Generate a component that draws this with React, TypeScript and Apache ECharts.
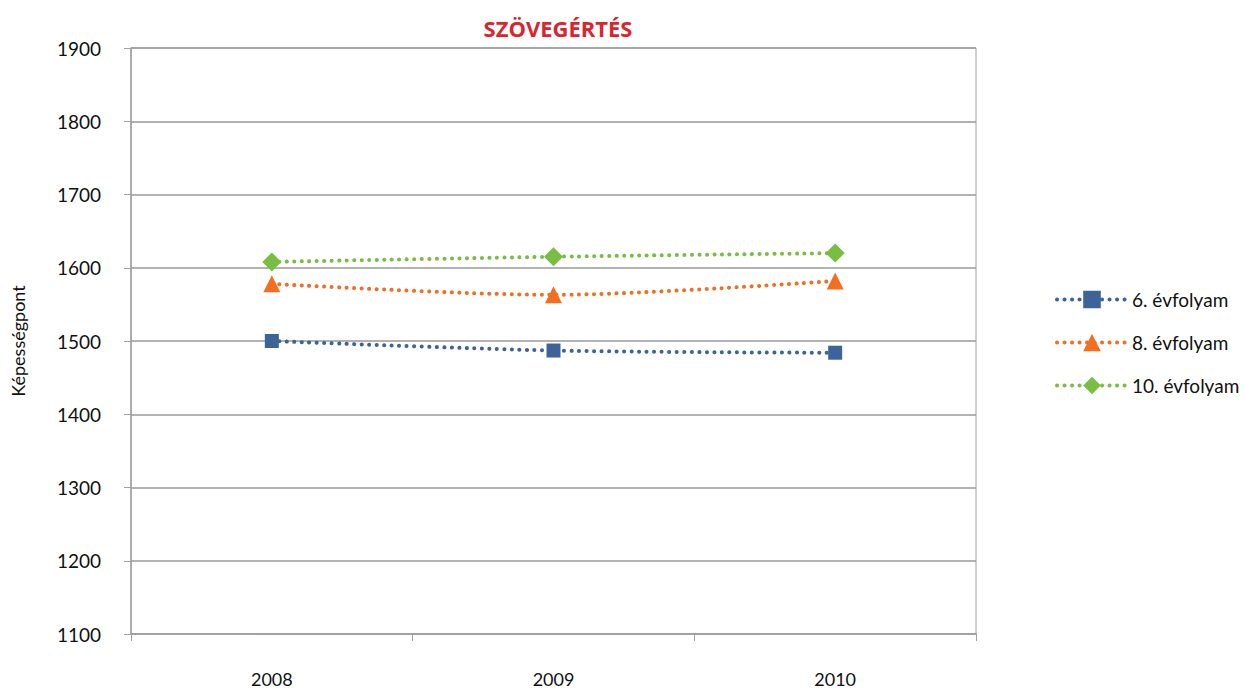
import React, { useEffect, useRef } from "react";
import * as echarts from "echarts";

const title = "SZÖVEGÉRTÉS";
const years = ["2008", "2009", "2010"];
const grade6 = [1500, 1487, 1484];
const grade8 = [1578, 1563, 1582];
const grade10 = [1608, 1615, 1620];
const seriesNames = ["6. évfolyam", "8. évfolyam", "10. évfolyam"];
const yMin = 1100;
const yMax = 1900;
const yStep = 100;

export default function App() {
  const ref = useRef<HTMLDivElement>(null);
  useEffect(() => {
    if (!ref.current) return;
    const chart = echarts.init(ref.current, undefined, { renderer: "svg" });
    const font = "Lato, 'Open Sans', sans-serif";
    const dot = { width: 4, type: [0.1, 7.4], cap: "round" };
    const mk = (name: string, data: number[], color: string, symbol: string, size: number) => ({
      name,
      type: "line",
      data,
      smooth: 0.3,
      symbol,
      symbolSize: size,
      showSymbol: true,
      itemStyle: { color },
      lineStyle: { color, ...dot },
    });
    chart.setOption({
      animation: false,
      title: {
        text: title,
        left: 553,
        textAlign: "center",
        top: 12,
        textStyle: { color: "#d9262e", fontSize: 22, fontWeight: "bold", fontFamily: "'Open Sans', sans-serif" },
      },
      grid: {
        left: 131,
        right: 269,
        top: 48,
        bottom: 57,
        show: true,
        borderColor: "#a0a0a0",
        borderWidth: 1,
      },
      legend: {
        orient: "vertical",
        left: 1050,
        top: 285,
        itemGap: 24,
        itemWidth: 70,
        itemHeight: 22,
        textStyle: { fontSize: 19, fontFamily: font, color: "#111" },
        lineStyle: { ...dot },
        data: seriesNames,
      },
      xAxis: {
        type: "category",
        data: years,
        boundaryGap: true,
        axisLine: { lineStyle: { color: "#a0a0a0", width: 1.5 } },
        axisTick: { show: true, length: 7, interval: 0, lineStyle: { color: "#a0a0a0" } },
        axisLabel: { margin: 36, fontSize: 18, fontFamily: font, color: "#111" },
      },
      yAxis: {
        type: "value",
        min: yMin,
        max: yMax,
        interval: yStep,
        name: "Képességpont",
        nameLocation: "middle",
        nameGap: 104,
        nameTextStyle: { fontSize: 18, fontFamily: font, color: "#111" },
        axisLine: { show: true, lineStyle: { color: "#a0a0a0", width: 1.5 } },
        axisTick: { show: true, length: 7, lineStyle: { color: "#a0a0a0" } },
        axisLabel: { margin: 30, fontSize: 19, fontFamily: font, color: "#111", formatter: (v: number) => String(v) },
        splitLine: { lineStyle: { color: "#999", width: 1.5 } },
      },
      series: [
        mk(seriesNames[0], grade6, "#3c6499", "rect", 14),
        mk(seriesNames[1], grade8, "#f26f22", "triangle", 17),
        mk(seriesNames[2], grade10, "#79bd43", "diamond", 19),
      ],
    });
    return () => chart.dispose();
  }, []);
  return <div ref={ref} style={{ position: "fixed", left: 0, top: 0, width: 1245, height: 691, background: "#fff" }} />;
}
